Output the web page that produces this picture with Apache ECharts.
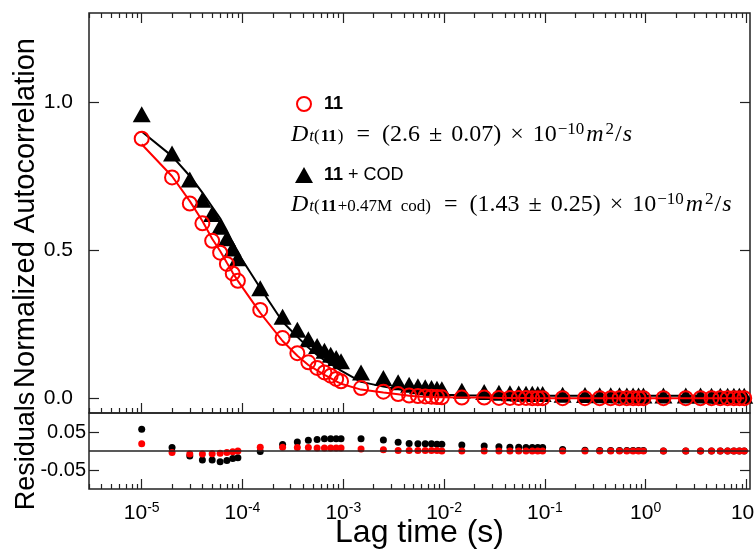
<!DOCTYPE html>
<html><head><meta charset="utf-8">
<script src="https://cdn.jsdelivr.net/npm/echarts@6/dist/echarts.min.js"></script>
<style>html,body{margin:0;padding:0;background:#fff}#c{width:755px;height:550px}</style>
</head><body><div id="c"></div>
<script>
// ---------- data ----------
const lagTime = [1e-5,2e-5,3e-5,4e-5,5e-5,6e-5,7e-5,8e-5,9e-5,
  1.5e-4,2.5e-4,3.5e-4,4.5e-4,5.5e-4,6.5e-4,7.5e-4,8.5e-4,9.5e-4,
  1.5e-3,2.5e-3,3.5e-3,4.5e-3,5.5e-3,6.5e-3,7.5e-3,8.5e-3,9.5e-3,
  0.015,0.025,0.035,0.045,0.055,0.065,0.075,0.085,0.095,
  0.15,0.25,0.35,0.45,0.55,0.65,0.75,0.85,0.95,
  1.5,2.5,3.5,4.5,5.5,6.5,7.5,8.5,9.5];
const g11 = [0.876,0.745,0.657,0.590,0.531,0.491,0.453,0.421,0.396,
  0.298,0.203,0.152,0.121,0.102,0.087,0.076,0.065,0.057,
  0.034,0.022,0.014,0.009,0.007,0.006,0.005,0.004,0.003,
  0.002,0.002,0.001,0.001,0.001,0.001,0.000,0.000,0.000,
  0,0,0,0,0,0,0,0,0,
  0,0,0,0,0,0,0,0,0];
const fit11 = [0.857,0.749,0.665,0.598,0.538,0.497,0.457,0.423,0.396,
  0.288,0.193,0.143,0.112,0.094,0.079,0.068,0.057,0.049,
  0.029,0.019,0.013,0.008,0.006,0.005,0.004,0.003,0.003,
  0.002,0.002,0.001,0.001,0.001,0.001,0.000,0.000,0.000,
  0,0,0,0,0,0,0,0,0,
  0,0,0,0,0,0,0,0,0];
const gCOD = [0.958,0.826,0.738,0.670,0.622,0.579,0.540,0.505,0.472,
  0.371,0.275,0.231,0.199,0.176,0.160,0.147,0.136,0.125,
  0.087,0.068,0.054,0.045,0.040,0.037,0.034,0.032,0.030,
  0.025,0.021,0.018,0.017,0.016,0.015,0.015,0.014,0.014,
  0.012,0.011,0.010,0.010,0.010,0.009,0.009,0.009,0.009,
  0.009,0.009,0.009,0.008,0.008,0.008,0.008,0.008,0.008];
const fitCOD = [0.900,0.817,0.750,0.694,0.646,0.607,0.565,0.525,0.490,
  0.372,0.258,0.207,0.171,0.146,0.128,0.115,0.104,0.093,
  0.055,0.039,0.031,0.025,0.021,0.018,0.016,0.014,0.012,
  0.010,0.009,0.008,0.008,0.008,0.008,0.008,0.008,0.008,
  0.008,0.008,0.008,0.008,0.008,0.008,0.008,0.008,0.008,
  0.008,0.008,0.008,0.008,0.008,0.008,0.008,0.008,0.008];
const res11 = [0.019,-0.004,-0.008,-0.008,-0.007,-0.006,-0.004,-0.002,0.000,
  0.010,0.010,0.009,0.009,0.008,0.008,0.008,0.008,0.008,
  0.005,0.003,0.001,0.001,0.001,0.001,0.001,0.001,0.000,
  0,0,0,0,0,0,0,0,0,
  0,0,0,0,0,0,0,0,0,
  0,0,0,0,0,0,0,0,0];
const resCOD = [0.057,0.009,-0.013,-0.024,-0.024,-0.028,-0.025,-0.020,-0.018,
  -0.001,0.017,0.024,0.028,0.030,0.032,0.032,0.032,0.032,
  0.032,0.029,0.023,0.020,0.019,0.019,0.019,0.018,0.018,
  0.016,0.013,0.011,0.010,0.010,0.009,0.009,0.009,0.009,
  0.004,0.002,0.001,0.001,0.001,0.001,0.001,0.001,0.001,
  0,0,0,0,0,0,0,0,0];

// ---------- ticks / labels ----------
const xTickValues = [1e-5,1e-4,1e-3,1e-2,1e-1,1,10];
const xTickExp = ['-5','-4','-3','-2','-1','0','1'];
const yMainTicks = [0, 0.5, 1.0];
const yResTicks = [-0.05, 0.05];
const minorTicks = [];
for (let e = -6; e <= 1; e++) for (let m = 2; m <= 9; m++) minorTicks.push(m * Math.pow(10, e));

const FONT = '"Liberation Sans", Arial, Helvetica, sans-serif';
const SERIF = '"Liberation Serif", "Times New Roman", serif';
const X_MIN = 3.0e-6, X_MAX = 10.84;
const TICK = '#222';

function pairs(xs, ys) { return xs.map((x, i) => [x, ys[i]]); }

function xAx(grid, pos, len, ticks, extra) {
  return Object.assign({
    type: 'log', logBase: 10, gridIndex: grid, position: pos, min: X_MIN, max: X_MAX,
    axisLine: { show: false, onZero: false }, splitLine: { show: false },
    axisTick: { show: true, inside: true, length: len, customValues: ticks, lineStyle: { color: TICK, width: 1.2 } },
    axisLabel: { show: false }
  }, extra || {});
}
function yAx(grid, pos, min, max, ticks, extra) {
  return Object.assign({
    type: 'value', gridIndex: grid, position: pos, min: min, max: max,
    axisLine: { show: false, onZero: false }, splitLine: { show: false },
    axisTick: { show: true, inside: true, length: 10, customValues: ticks, lineStyle: { color: TICK, width: 1.2 } },
    axisLabel: { show: false }
  }, extra || {});
}

const xLabelFmt = function (v) {
  let idx = 0, best = 1e9;
  xTickValues.forEach((t, i) => { const d = Math.abs(Math.log10(t) - Math.log10(v)); if (d < best) { best = d; idx = i; } });
  return '{b|10}{s|' + xTickExp[idx] + '}';
};

const MF = 24, SF = 17;
const mathRich = {
  D:  { fontFamily: SERIF, fontStyle: 'italic', fontSize: MF, lineHeight: 36, padding: [0, 0, 6, 0] },
  si: { fontFamily: SERIF, fontStyle: 'italic', fontSize: SF, lineHeight: 36, padding: [0, 0, 1, 1] },
  s:  { fontFamily: SERIF, fontSize: SF, lineHeight: 36, padding: [0, 0, 1, 0] },
  sb: { fontFamily: SERIF, fontWeight: 'bold', fontSize: SF, lineHeight: 36, padding: [0, 1, 1, 1] },
  eq: { fontFamily: SERIF, fontSize: MF, lineHeight: 36, padding: [0, 12, 6, 13] },
  n:  { fontFamily: SERIF, fontSize: MF, lineHeight: 36, padding: [0, 0, 6, 0] },
  op: { fontFamily: SERIF, fontSize: MF, lineHeight: 36, padding: [0, 9, 6, 9] },
  sup:{ fontFamily: SERIF, fontSize: SF, lineHeight: 36, padding: [0, 1, 16, 1] },
  mi: { fontFamily: SERIF, fontStyle: 'italic', fontSize: MF, lineHeight: 36, padding: [0, 1, 6, 1] }
};
const mathLine1 = '{D|D}{si|t}{s|(}{sb|11}{s|)}{eq|=}{n|(2.6}{op|±}{n|0.07)}{op|×}{n|10}{sup|−10}{mi|m}{sup|2}{n|/}{mi|s}';
const mathLine2 = '{D|D}{si|t}{s|(}{sb|11}{s|+0.47M  cod)}{eq|=}{n|(1.43}{op|±}{n|0.25)}{op|×}{n|10}{sup|−10}{mi|m}{sup|2}{n|/}{mi|s}';

const gridCommon = { show: true, borderColor: '#222', borderWidth: 1.5, backgroundColor: 'transparent',
  containLabel: false, outerBoundsMode: 'none' };

const chart = echarts.init(document.getElementById('c'), null, { renderer: 'canvas' });
chart.setOption({
  animation: false,
  backgroundColor: '#fff',
  textStyle: { fontFamily: FONT },
  grid: [
    Object.assign({ left: 89, top: 13, width: 661, height: 400 }, gridCommon),
    Object.assign({ left: 89, top: 413, width: 661, height: 76 }, gridCommon)
  ],
  xAxis: [
    xAx(0, 'bottom', 10, xTickValues),
    xAx(0, 'bottom', 5, minorTicks),
    xAx(0, 'top', 10, xTickValues),
    xAx(0, 'top', 5, minorTicks),
    xAx(1, 'bottom', 10, xTickValues, {
      axisLabel: { show: true, customValues: xTickValues, margin: 10, formatter: xLabelFmt,
        rich: {
          b: { fontFamily: FONT, fontSize: 21, color: '#000', lineHeight: 28 },
          s: { fontFamily: FONT, fontSize: 14, color: '#000', lineHeight: 28, padding: [0, 0, 10, 0] }
        } },
      name: 'Lag time (s)', nameLocation: 'middle', nameGap: 28, nameMoveOverlap: false,
      nameTextStyle: { fontFamily: FONT, fontSize: 32, color: '#000' }
    }),
    xAx(1, 'bottom', 5, minorTicks)
  ],
  yAxis: [
    yAx(0, 'left', -0.05, 1.3, yMainTicks, {
      axisLabel: { show: true, customValues: yMainTicks, margin: 16, fontSize: 21, color: '#000', fontFamily: FONT,
        formatter: v => v.toFixed(1) },
      name: 'Normalized Autocorrelation', nameLocation: 'middle', nameRotate: 90, nameGap: 49, nameMoveOverlap: false,
      nameTextStyle: { fontFamily: FONT, fontSize: 29, color: '#000' }
    }),
    yAx(0, 'right', -0.05, 1.3, yMainTicks),
    yAx(1, 'left', -0.1, 0.1, yResTicks, {
      axisLabel: { show: true, customValues: yResTicks, margin: 3, fontSize: 20, color: '#000', fontFamily: FONT,
        formatter: v => v.toFixed(2) },
      name: 'Residuals', nameLocation: 'middle', nameRotate: 90, nameGap: 49, nameMoveOverlap: false,
      nameTextStyle: { fontFamily: FONT, fontSize: 27, color: '#000' }
    }),
    yAx(1, 'right', -0.1, 0.1, yResTicks)
  ],
  legend: [
    { data: ['11'], left: 296, top: 95, padding: 0, itemWidth: 14, itemHeight: 14, selectedMode: false,
      formatter: () => '{b|11}',
      textStyle: { fontFamily: FONT, fontSize: 18, color: '#000',
        rich: { b: { fontFamily: FONT, fontSize: 18, fontWeight: 'bold', color: '#000', padding: [0, 0, 0, 8] } } } },
    { data: ['11 + COD'], left: 295, top: 166, padding: 0, itemWidth: 18, itemHeight: 16, selectedMode: false,
      formatter: () => '{b|11} + COD',
      textStyle: { fontFamily: FONT, fontSize: 18, color: '#000',
        rich: { b: { fontFamily: FONT, fontSize: 18, fontWeight: 'bold', color: '#000', padding: [0, 0, 0, 6] } } } }
  ],
  graphic: [
    { type: 'text', left: 291, top: 121, style: { text: mathLine1, rich: mathRich, fill: '#000' } },
    { type: 'text', left: 291, top: 191, style: { text: mathLine2, rich: mathRich, fill: '#000' } }
  ],
  series: [
    { name: 'fit 11 + COD', type: 'line', xAxisIndex: 0, yAxisIndex: 0, data: pairs(lagTime, fitCOD),
      showSymbol: false, symbol: 'none', lineStyle: { color: '#000', width: 2 }, z: 2 },
    { name: '11 + COD', type: 'scatter', xAxisIndex: 0, yAxisIndex: 0, data: pairs(lagTime, gCOD),
      symbol: 'triangle', symbolSize: [18, 16], itemStyle: { color: '#000', opacity: 1 }, z: 3 },
    { name: 'fit 11', type: 'line', xAxisIndex: 0, yAxisIndex: 0, data: pairs(lagTime, fit11),
      showSymbol: false, symbol: 'none', lineStyle: { color: '#ff0000', width: 2 }, z: 4 },
    { name: '11', type: 'scatter', xAxisIndex: 0, yAxisIndex: 0, data: pairs(lagTime, g11),
      symbol: 'circle', symbolSize: 14, itemStyle: { color: 'rgba(255,255,255,0)', borderColor: '#ff0000', borderWidth: 2, opacity: 1 }, z: 5 },
    { name: 'res 11 + COD', type: 'scatter', xAxisIndex: 4, yAxisIndex: 2, data: pairs(lagTime, resCOD),
      symbol: 'circle', symbolSize: 7, itemStyle: { color: '#000', opacity: 1 }, z: 3,
      markLine: { silent: true, symbol: 'none', label: { show: false }, lineStyle: { color: '#222', width: 1.5, type: 'solid' },
        data: [{ yAxis: 0 }] } },
    { name: 'res 11', type: 'scatter', xAxisIndex: 4, yAxisIndex: 2, data: pairs(lagTime, res11),
      symbol: 'circle', symbolSize: 7, itemStyle: { color: '#ff0000', opacity: 1 }, z: 4 }
  ]
});
</script>
</body></html>
